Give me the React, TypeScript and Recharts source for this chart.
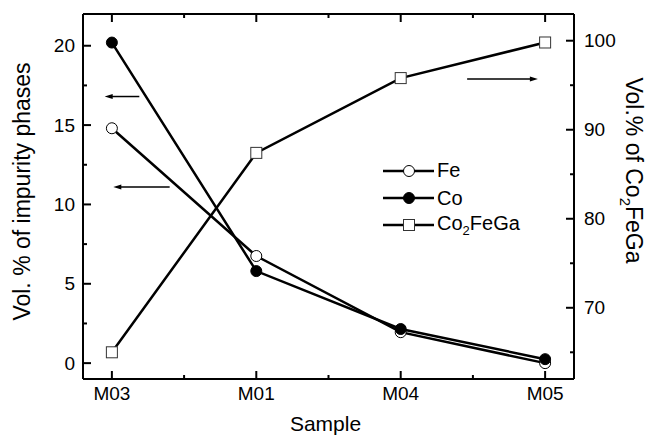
import { LineChart, Line, XAxis, YAxis, Legend, ReferenceLine } from "recharts";

const samples = ["M03", "M01", "M04", "M05"];
const samplePos = [1, 2, 3, 4];
const feVol = [14.8, 6.75, 1.95, 0.0];
const coVol = [20.2, 5.8, 2.15, 0.25];
const heuslerVol = [65.0, 87.4, 95.8, 99.8];

const leftTicks = [0, 2.5, 5, 7.5, 10, 12.5, 15, 17.5, 20];
const rightTicks = [65, 70, 75, 80, 85, 90, 95, 100];
const xTicks = [1, 1.5, 2, 2.5, 3, 3.5, 4];

// arrows pointing at the axis each curve belongs to (head at "to")
const arrows = [
  { axis: "left", y: 16.8, from: 1.19, to: 0.95 },
  { axis: "left", y: 11.1, from: 1.4, to: 1.01 },
  { axis: "right", y: 95.7, from: 3.46, to: 3.95 },
];

const FONT = '"Liberation Sans", Arial, sans-serif';
const TICK_FS = 19;
const TITLE_FS = 23;

const data = samples.map((s, i) => ({
  name: s,
  x: samplePos[i],
  fe: feVol[i],
  co: coVol[i],
  heusler: heuslerVol[i],
}));

const LeftTick = (props: any) => {
  const { x, y, payload } = props;
  const ax = x + 8;
  const major = payload.value % 5 === 0;
  return (
    <g>
      <line x1={ax} x2={ax + (major ? 8 : 4)} y1={y} y2={y} stroke="#000" strokeWidth={2} />
      {major && (
        <text x={x} y={y} dy="0.35em" textAnchor="end" fontSize={TICK_FS} fontFamily={FONT} fill="#000">
          {payload.value}
        </text>
      )}
    </g>
  );
};

const RightTick = (props: any) => {
  const { x, y, payload } = props;
  const ax = x - 10;
  const major = payload.value % 10 === 0;
  return (
    <g>
      <line x1={ax} x2={ax - (major ? 8 : 4)} y1={y} y2={y} stroke="#000" strokeWidth={2} />
      {major && (
        <text x={x} y={y} dy="0.35em" textAnchor="start" fontSize={TICK_FS} fontFamily={FONT} fill="#000">
          {payload.value}
        </text>
      )}
    </g>
  );
};

const BottomTick = (props: any) => {
  const { x, y, payload } = props;
  const ay = y - 7;
  const major = Number.isInteger(payload.value);
  return (
    <g>
      <line x1={x} x2={x} y1={ay} y2={ay - (major ? 8 : 4)} stroke="#000" strokeWidth={2} />
      {major && (
        <text x={x} y={y} dy="0.75em" textAnchor="middle" fontSize={TICK_FS} fontFamily={FONT} fill="#000">
          {samples[samplePos.indexOf(payload.value)]}
        </text>
      )}
    </g>
  );
};

const TopTick = (props: any) => {
  const { x, y, payload } = props;
  const major = Number.isInteger(payload.value);
  return <line x1={x} x2={x} y1={y} y2={y + (major ? 8 : 4)} stroke="#000" strokeWidth={2} />;
};

const LeftTitle = (props: any) => {
  const { viewBox } = props;
  const cx = viewBox.x + 22;
  const cy = viewBox.y + viewBox.height / 2 - 5;
  return (
    <text x={cx} y={cy} dy="0.35em" textAnchor="middle" transform={`rotate(-90, ${cx}, ${cy})`}
      fontSize={TITLE_FS} fontFamily={FONT} fill="#000">
      Vol. % of impurity phases
    </text>
  );
};

const RightTitle = (props: any) => {
  const { viewBox } = props;
  const cx = viewBox.x + 60;
  const cy = viewBox.y + viewBox.height / 2 - 26;
  return (
    <text x={cx} y={cy} dy="0.35em" textAnchor="middle" transform={`rotate(90, ${cx}, ${cy})`}
      fontSize={TITLE_FS} fontFamily={FONT} fill="#000">
      Vol.% of Co
      <tspan fontSize={TITLE_FS * 0.65} dy={6}>2</tspan>
      <tspan dy={-6}>FeGa</tspan>
    </text>
  );
};

const BottomTitle = (props: any) => {
  const { viewBox } = props;
  const cx = viewBox.x + viewBox.width / 2 - 3;
  return (
    <text x={cx} y={viewBox.y + viewBox.height - 5} textAnchor="middle" fontSize={21} fontFamily={FONT} fill="#000">
      Sample
    </text>
  );
};

const SquareDot = (props: any) => {
  const { cx, cy, index } = props;
  if (cx == null || cy == null) return null;
  return <rect key={`sq-${index}`} x={cx - 5.5} y={cy - 5.5} width={11} height={11} fill="#fff" stroke="#333" strokeWidth={1} />;
};

const Arrow = (props: any) => {
  const { x1, y1, x2, y2 } = props;
  // head sits at the second point
  const dir = Math.sign(x2 - x1) || 1;
  return (
    <g>
      <line x1={x1} y1={y1} x2={x2 - dir * 5} y2={y2} stroke="#000" strokeWidth={1.5} />
      <polygon points={`${x2},${y2} ${x2 - dir * 8},${y2 - 2.5} ${x2 - dir * 8},${y2 + 2.5}`} fill="#000" />
    </g>
  );
};

const legendItems = [
  { label: "Fe", kind: "open" },
  { label: "Co", kind: "filled" },
  { label: "Co2FeGa", kind: "square" },
];

const LegendContent = () => (
  <div style={{ fontFamily: FONT, fontSize: 20, color: "#000" }}>
    {legendItems.map((item) => (
      <div key={item.label} style={{ display: "flex", alignItems: "center", height: 27.4 }}>
        <svg width={54} height={20} style={{ display: "block" }}>
          <line x1={0} x2={51} y1={10} y2={10} stroke="#000" strokeWidth={2.5} />
          {item.kind === "square" ? (
            <rect x={20.5} y={4.5} width={11} height={11} fill="#fff" stroke="#333" strokeWidth={1} />
          ) : (
            <circle cx={26} cy={10} r={5.5} fill={item.kind === "filled" ? "#000" : "#fff"} stroke="#000" strokeWidth={1} />
          )}
        </svg>
        <span>
          {item.label === "Co2FeGa" ? (
            <>
              Co<sub style={{ fontSize: 13, verticalAlign: -5 }}>2</sub>FeGa
            </>
          ) : (
            item.label
          )}
        </span>
      </div>
    ))}
  </div>
);

export default function App() {
  return (
    <div style={{ position: "absolute", left: 0, top: 0, background: "#fff" }}>
      <LineChart width={647} height={436} data={data} margin={{ top: 0, right: 0, bottom: 0, left: 0 }}>
        <XAxis
          xAxisId="bottom"
          dataKey="x"
          type="number"
          domain={[0.8, 4.2]}
          ticks={xTicks}
          interval={0}
          height={57}
          tickSize={0}
          tickMargin={7}
          tickLine={false}
          axisLine={{ stroke: "#000", strokeWidth: 2 }}
          tick={<BottomTick />}
          label={BottomTitle}
        />
        <XAxis
          xAxisId="top"
          orientation="top"
          dataKey="x"
          type="number"
          domain={[0.8, 4.2]}
          ticks={xTicks}
          interval={0}
          height={14}
          tickSize={0}
          tickMargin={0}
          tickLine={false}
          axisLine={{ stroke: "#000", strokeWidth: 2 }}
          tick={<TopTick />}
        />
        <YAxis
          yAxisId="left"
          domain={[-1, 22]}
          ticks={leftTicks}
          interval={0}
          width={83}
          tickSize={0}
          tickMargin={8}
          tickLine={false}
          axisLine={{ stroke: "#000", strokeWidth: 2 }}
          tick={<LeftTick />}
          label={LeftTitle}
        />
        <YAxis
          yAxisId="right"
          orientation="right"
          domain={[62, 103]}
          ticks={rightTicks}
          interval={0}
          width={73}
          tickSize={0}
          tickMargin={10}
          tickLine={false}
          axisLine={{ stroke: "#000", strokeWidth: 2 }}
          tick={<RightTick />}
          label={RightTitle}
        />
        {arrows.map((a, i) => (
          <ReferenceLine
            key={i}
            xAxisId="bottom"
            yAxisId={a.axis}
            segment={[
              { x: a.from, y: a.y },
              { x: a.to, y: a.y },
            ]}
            shape={Arrow}
          />
        ))}
        <Line
          xAxisId="bottom"
          yAxisId="right"
          dataKey="heusler"
          stroke="#000"
          strokeWidth={2.5}
          dot={SquareDot}
          activeDot={false}
          isAnimationActive={false}
        />
        <Line
          xAxisId="bottom"
          yAxisId="left"
          dataKey="fe"
          stroke="#000"
          strokeWidth={2.5}
          dot={{ r: 5.5, fill: "#fff", stroke: "#000", strokeWidth: 1 }}
          activeDot={false}
          isAnimationActive={false}
        />
        <Line
          xAxisId="bottom"
          yAxisId="left"
          dataKey="co"
          stroke="#000"
          strokeWidth={2.5}
          dot={{ r: 5.5, fill: "#000", stroke: "#000", strokeWidth: 1 }}
          activeDot={false}
          isAnimationActive={false}
        />
        <Legend
          layout="vertical"
          align="center"
          verticalAlign="middle"
          content={<LegendContent />}
          wrapperStyle={{ left: 383, top: 157, width: "auto", height: "auto" }}
        />
      </LineChart>
    </div>
  );
}
